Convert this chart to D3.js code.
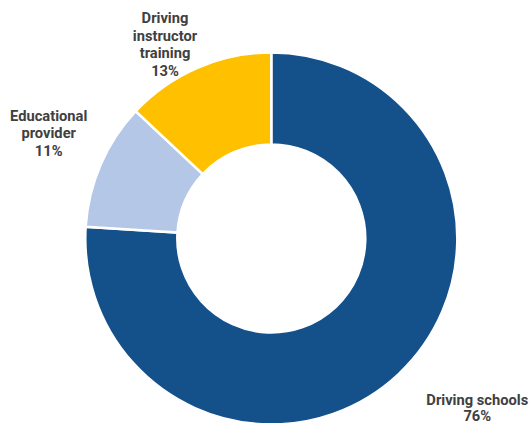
<!DOCTYPE html>
<html>
<head>
<meta charset="utf-8">
<script src="https://cdn.jsdelivr.net/npm/d3@7"></script>
<style>
  html, body { margin: 0; padding: 0; background: #ffffff; }
  svg { display: block; }
  text { font-family: Roboto, "Liberation Sans", sans-serif; font-weight: 700; font-size: 14.7px; fill: #404040; }
</style>
</head>
<body>
<svg id="chart" width="531" height="423"></svg>
<script>
// Share of respondents by provider type (percent)
const categories = ["Driving schools", "Educational provider", "Driving instructor training"];
const values = [76, 11, 13];
const colors = ["#14508a", "#b4c7e7", "#ffc000"];
// Label lines drawn for each slice (name wrapped as in the chart)
const labelLines = [
  ["Driving schools"],
  ["Educational", "provider"],
  ["Driving", "instructor", "training"]
];

// Layout
const width = 531, height = 423;
const cx = 271.3, cy = 238.5;
const outerR = 186, innerR = 94;
// Text block centre x, first baseline y and line spacing for each label
const labelAnchor = [
  { x: 477.3, y: 404.6, gap: 16.6 },
  { x: 48.7, y: 120.7, gap: 17.7 },
  { x: 165, y: 23, gap: 17.6 }
];

const svg = d3.select("#chart");
const g = svg.append("g").attr("transform", `translate(${cx},${cy})`);

const data = categories.map((c, i) => ({ name: c, value: values[i], color: colors[i], lines: labelLines[i] }));

const pie = d3.pie().value(d => d.value).sort(null);
const arc = d3.arc().innerRadius(innerR).outerRadius(outerR);

const arcs = pie(data);

g.selectAll("path.slice")
  .data(arcs)
  .join("path")
  .attr("class", "slice")
  .attr("d", arc)
  .attr("fill", d => d.data.color)
  .attr("stroke", "#ffffff")
  .attr("stroke-width", 2.5)
  .attr("stroke-linejoin", "miter");

const labels = svg.selectAll("text.label")
  .data(arcs)
  .join("text")
  .attr("class", "label")
  .attr("text-anchor", "middle");

labels.each(function (d, i) {
  const t = d3.select(this);
  const a = labelAnchor[i];
  const lines = d.data.lines.concat([d.data.value + "%"]);
  lines.forEach((ln, k) => {
    t.append("tspan")
      .attr("x", a.x)
      .attr("y", a.y + k * a.gap)
      .text(ln);
  });
});
</script>
</body>
</html>
